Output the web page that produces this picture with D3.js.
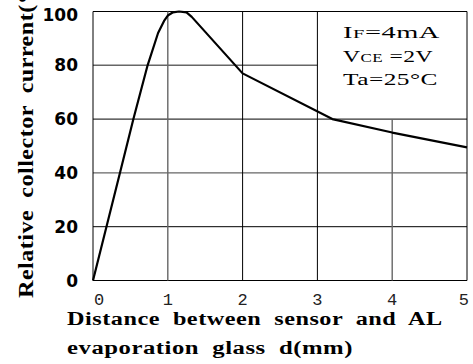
<!DOCTYPE html>
<html><head><meta charset="utf-8">
<script src="https://cdn.jsdelivr.net/npm/d3@7"></script>
<style>body{margin:0;background:#fff}svg{display:block}</style>
</head><body>
<svg id="c" width="473" height="364"></svg>
<script>
const distance = [0, 0.18, 0.36, 0.54, 0.73, 0.87, 0.95, 1.0, 1.07, 1.15, 1.25, 1.32, 2.0, 3.2, 4.0, 5.0];
const current  = [0, 20, 40, 60, 80, 92, 96.5, 98.5, 99.7, 100, 99.7, 98, 77, 60, 55, 49.5];
const xTicks = [0, 1, 2, 3, 4, 5];
const yTicks = [0, 20, 40, 60, 80, 100];
const legendLines = [["I","F","=4mA"],["V","CE"," =2V"],["Ta","","=25°C"]];
const xTitle = ["Distance between sensor and AL", "evaporation glass d(mm)"];
const yTitle = "Relative collector current(%)";

const svg = d3.select("#c");
const x = d3.scaleLinear().domain([0,5]).range([93,467]);
const y = d3.scaleLinear().domain([0,100]).range([280.5,11.5]);

// stretch a text horizontally (in its own frame) to a target width
function fit(sel, target, tx, ty, rot) {
  const w = sel.node().getComputedTextLength();
  sel.attr("x", 0).attr("y", 0)
     .attr("transform", `translate(${tx},${ty})${rot ? " rotate(" + rot + ")" : ""} scale(${target / w},1)`);
}

const soft = v => (v === 80 || v === 40);
const g = svg.append("g");
yTicks.forEach(v => {
  const x2 = (v === 80) ? x(3) : x(5);
  g.append("line").attr("x1", x(0)).attr("x2", x2).attr("y1", y(v)).attr("y2", y(v))
   .attr("stroke", soft(v) ? "#666" : "#000").attr("stroke-width", soft(v) ? 1.4 : 1);
});
xTicks.forEach(v => {
  const y2 = (v === 4) ? y(60) : y(100);
  const s = (v === 1 || v === 4);
  g.append("line").attr("x1", x(v)).attr("x2", x(v)).attr("y1", y(0)).attr("y2", y2)
   .attr("stroke", s ? "#666" : "#000").attr("stroke-width", s ? 1.4 : 1);
});

const line = d3.line().x((d,i)=>x(distance[i])).y((d,i)=>y(current[i])).curve(d3.curveLinear);
g.append("path").attr("d", line(distance)).attr("fill","none").attr("stroke","#000")
 .attr("stroke-width", 2.2).attr("stroke-linejoin","round");

// legend
const lg = svg.append("g").attr("font-family","'Liberation Serif', serif").attr("fill","#000");
const legY = [38, 61.5, 85];
const legW = [97, 90, 95];
legendLines.forEach((l, i) => {
  const t = lg.append("text").attr("font-size", 16).attr("letter-spacing", 0.3);
  t.append("tspan").text(l[0]);
  if (l[1]) t.append("tspan").attr("font-size", 11.5).text(l[1]);
  t.append("tspan").text(l[2]);
  fit(t, legW[i], 343, legY[i]);
});

// y tick labels
svg.append("g").selectAll("text").data(yTicks).join("text")
  .attr("x", 78).attr("y", d => y(d) + (d===100 ? 9 : 6))
  .attr("text-anchor","end").attr("font-family","'DejaVu Sans', sans-serif")
  .attr("font-weight","bold").attr("font-size", 17).text(d => d);

// x tick labels
svg.append("g").selectAll("text").data(xTicks).join("text")
  .attr("x", d => d===0 ? x(d)+1 : d===5 ? x(d)+2 : x(d))
  .attr("y", 305)
  .attr("text-anchor", d => d===0 ? "start" : d===5 ? "end" : "middle")
  .attr("font-family","'Liberation Mono', monospace").attr("font-size", 17)
  .attr("fill","#222").text(d => d);

// axis titles
const xt = svg.append("g").attr("font-family","'Liberation Serif', serif")
  .attr("font-weight","bold").attr("font-size", 19).attr("letter-spacing", 0.4).attr("word-spacing", 5);
fit(xt.append("text").text(xTitle[0]), 376, 67, 325);
fit(xt.append("text").text(xTitle[1]), 286, 67, 354);

const yt = svg.append("text").attr("font-family","'Liberation Serif', serif").attr("font-weight","bold")
  .attr("font-size", 21).attr("letter-spacing", 0.4).attr("word-spacing", 5).text(yTitle);
fit(yt, 327, 33, 298, -90);
</script>
</body></html>
